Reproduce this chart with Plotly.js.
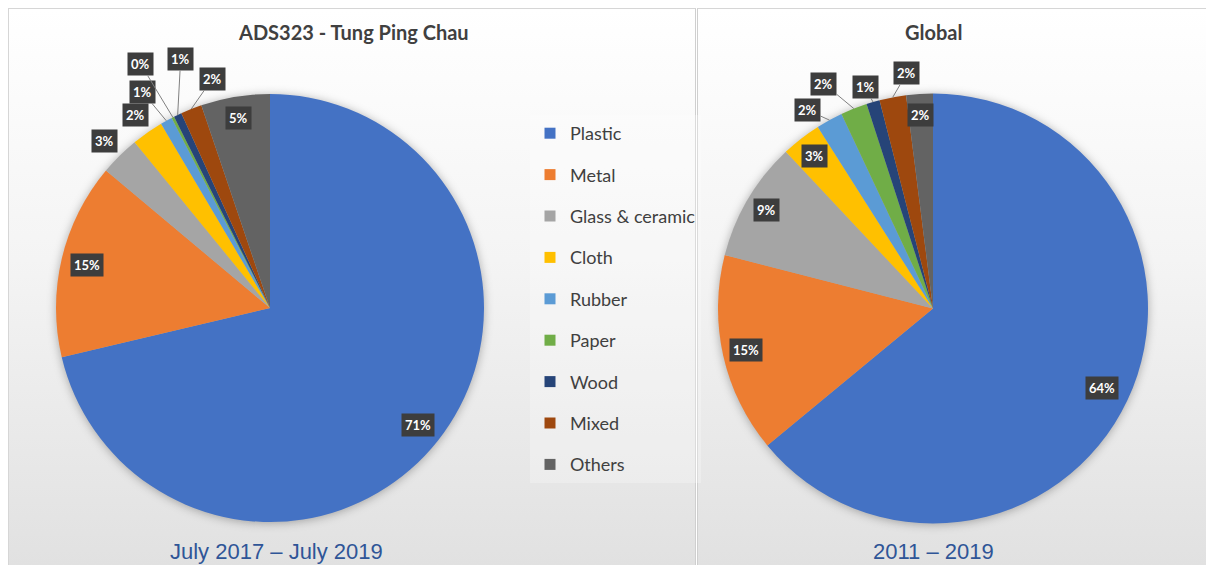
<!DOCTYPE html>
<html><head><meta charset="utf-8">
<script src="https://cdn.plot.ly/plotly-3.0.1.min.js"></script>
<style>
html,body{margin:0;padding:0;background:#fff;}
#wrap{position:relative;width:1206px;height:565px;overflow:hidden;}
.panel{position:absolute;box-sizing:border-box;background:linear-gradient(180deg,#ffffff 0%,#f4f4f4 45%,#e1e1e1 100%);}
#p1{left:8px;top:8px;width:688px;height:557px;border-top:1px solid #d6d6d6;border-left:1px solid #d6d6d6;border-right:1px solid #cfcfcf;}
#p2{left:697px;top:8px;width:509px;height:557px;border-top:1px solid #d6d6d6;border-left:1px solid #cfcfcf;}
#chart{position:absolute;left:0;top:0;width:1206px;height:565px;}
.pielayer .trace{filter:drop-shadow(0px 1px 5px rgba(0,0,0,0.30));}
</style></head>
<body><div id="wrap"><div class="panel" id="p1"></div><div class="panel" id="p2"></div><div id="chart"></div></div>
<script>
// ---- data ----
const categories = ["Plastic", "Metal", "Glass & ceramic", "Cloth", "Rubber", "Paper", "Wood", "Mixed", "Others"];
const tpcValues = [71.3, 14.8, 3.0, 2.4, 0.9, 0.2, 0.6, 1.6, 5.2];
const globalValues = [64, 15, 9, 3, 2, 2, 1, 2, 2];
const chartTitles = ["ADS323 - Tung Ping Chau", "Global"];
const periodLabels = ["July 2017 \u2013 July 2019", "2011 \u2013 2019"];

// ---- styles ----
const colors = ["#4472c4", "#ed7d31", "#a5a5a5", "#ffc000", "#5b9bd5", "#70ad47", "#264478", "#9e480e", "#636363"];
const W = 1206, H = 565;
const geom = [{cx: 270, cy: 308, r: 214, titleX: 353, titleY: 32, subX: 276, subY: 551},
              {cx: 933, cy: 308.5, r: 215, titleX: 933, titleY: 32, subX: 933, subY: 551}];
// label placement per slice: number = radial factor (no leader), array = pixel offset from slice edge (with leader)
const labelPlacement = [
  [0.88, 0.88, 1.1, 1.1, [-24, -29], [-32, -53], [3, -56], [21, -30], 0.9],
  [0.87, 0.89, 0.9, 0.9, [-22, -10], [-30, -25], [-8, -15], [14, -24], 0.9]
];
const FONT = "Lato, 'Open Sans', sans-serif";

const seriesList = [tpcValues, globalValues];
const traces = [];
const annotations = [];

seriesList.forEach((vals, k) => {
  const g = geom[k];
  traces.push({
    type: 'pie', labels: categories, values: vals, sort: false, direction: 'clockwise', rotation: 0,
    marker: {colors: colors, line: {width: 0}}, textinfo: 'none', hoverinfo: 'label+percent',
    showlegend: false,
    domain: {x: [(g.cx - g.r) / W, (g.cx + g.r) / W], y: [1 - (g.cy + g.r) / H, 1 - (g.cy - g.r) / H]}
  });
  const total = vals.reduce((a, b) => a + b, 0);
  let cum = 0;
  vals.forEach((v, i) => {
    const mid = (cum + v / 2) / total;
    cum += v;
    const th = mid * 2 * Math.PI;
    const place = labelPlacement[k][i];
    const txt = Math.round(v / total * 100) + '%';
    const base = {text: txt, xref: 'paper', yref: 'paper', xanchor: 'center', yanchor: 'middle',
                  bgcolor: '#3d3d3d', borderpad: 3,
                  font: {family: FONT, size: 13, color: '#ffffff', weight: 700}};
    if (Array.isArray(place)) {
      const px = g.cx + g.r * Math.sin(th), py = g.cy - g.r * Math.cos(th);
      annotations.push(Object.assign(base, {x: px / W, y: 1 - py / H, showarrow: true, arrowhead: 0,
        arrowwidth: 1, arrowcolor: '#808080', standoff: 0, startstandoff: 0, ax: place[0], ay: place[1]}));
    } else {
      const px = g.cx + g.r * place * Math.sin(th), py = g.cy - g.r * place * Math.cos(th);
      annotations.push(Object.assign(base, {x: px / W, y: 1 - py / H, showarrow: false}));
    }
  });
  annotations.push({text: chartTitles[k], xref: 'paper', yref: 'paper', x: g.titleX / W, y: 1 - g.titleY / H,
    xanchor: 'center', yanchor: 'middle', showarrow: false,
    font: {family: FONT, size: 20, color: '#404040', weight: 700}});
  annotations.push({text: periodLabels[k], xref: 'paper', yref: 'paper', x: g.subX / W, y: 1 - g.subY / H,
    xanchor: 'center', yanchor: 'middle', showarrow: false,
    font: {family: "'Liberation Sans', Arial, sans-serif", size: 22, color: '#2f5597'}});
});

// legend entries
categories.forEach((c, i) => {
  traces.push({type: 'scatter', x: [null], y: [null], mode: 'markers', name: c, legendgroup: c,
    marker: {symbol: 'square', size: 11, color: colors[i]}, showlegend: true, hoverinfo: 'skip'});
});

const layout = {
  width: W, height: H, margin: {l: 0, r: 0, t: 0, b: 0},
  paper_bgcolor: 'rgba(0,0,0,0)', plot_bgcolor: 'rgba(0,0,0,0)',
  xaxis: {visible: false}, yaxis: {visible: false},
  showlegend: true,
  legend: {x: 530 / W, y: 1 - 115 / H, xanchor: 'left', yanchor: 'top', bgcolor: 'rgba(255,255,255,0.25)',
    font: {family: FONT, size: 18, color: '#404040'}, tracegroupgap: 15, itemwidth: 30},
  annotations: annotations
};
Plotly.newPlot('chart', traces, layout, {displayModeBar: false, staticPlot: true});
</script>
</body></html>
